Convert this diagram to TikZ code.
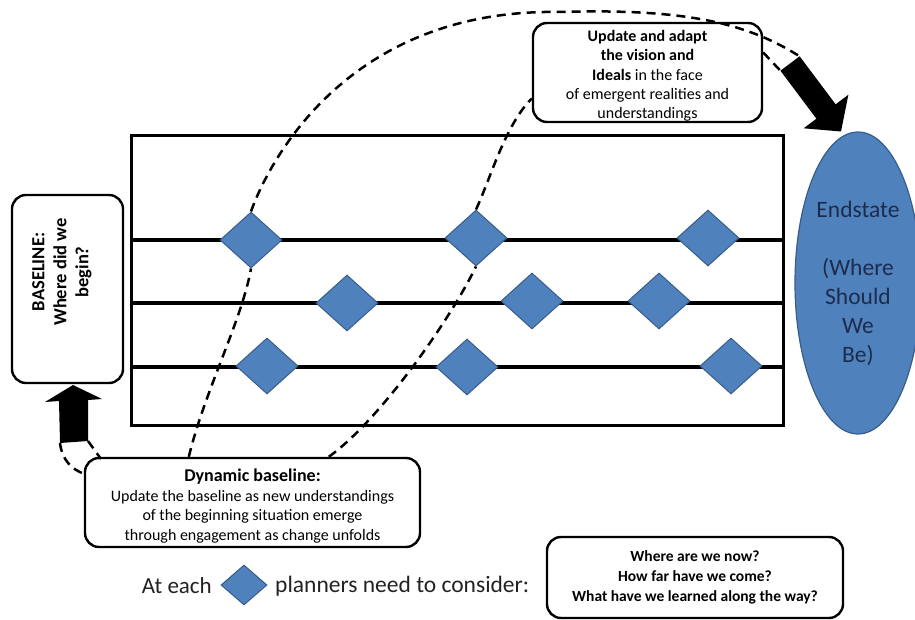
\documentclass[tikz,border=0pt]{standalone}
\usepackage{fontspec}
\setmainfont{Carlito}
\usetikzlibrary{shapes.geometric}
\definecolor{diafill}{HTML}{4F81BD}
\definecolor{diaedge}{HTML}{385D8A}
\definecolor{navy}{HTML}{1C2C4C}
\definecolor{ink}{HTML}{222222}
\begin{document}
\begin{tikzpicture}[x=1pt,y=-1pt,
  roundbox/.style={draw=black, line width=2.4pt, rounded corners=14pt, fill=white, inner sep=0pt, align=center},
  milestone/.style={diamond, draw=diaedge, fill=diafill, line width=1pt,
    minimum width=62pt, minimum height=56pt, inner sep=0pt},
  track/.style={line width=4.8pt},
  pathdash/.style={line width=2.5pt, dash pattern=on 9pt off 6pt},
  bigarrow/.style={fill=black},
  plain/.style={inner sep=0pt, text=ink},
]
\useasboundingbox (0,0) rectangle (915,620);
\fill[white] (0,0) rectangle (915,620);

% timeline frame and the three tracks
\draw[line width=3pt] (131,136) rectangle (783,425);
\foreach \yy in {240,303,367}
  \draw[track] (131,\yy) -- (783,\yy);

% milestones on the tracks
\node[milestone] (d11) at (251,240) {};
\node[milestone] (d12) at (476,238) {};
\node[milestone] (d13) at (708,238) {};
\node[milestone] (d21) at (347,303) {};
\node[milestone] (d22) at (532,301) {};
\node[milestone] (d23) at (659,301) {};
\node[milestone] (d31) at (267,366) {};
\node[milestone] (d32) at (467,367) {};
\node[milestone] (d33) at (731,366) {};

% boxes
\node[roundbox, minimum width=111pt, minimum height=188pt] (base) at (67.5,289) {};
\node[rotate=90, align=center, inner sep=0pt, font=\bfseries\fontsize{18.5}{22}\selectfont]
  (basetext) at (62,272) {BASELINE:\\Where did we\\begin?};

\node[roundbox, minimum width=335pt, minimum height=89pt] (dyn) at (252.5,502.5) {};
\node[align=center, inner sep=0pt, font=\fontsize{16}{19.6}\selectfont] (dyntext) at (252.5,506)
  {{\bfseries\fontsize{18}{19.6}\selectfont Dynamic baseline:}\\
   Update the baseline as new understandings\\
   of the beginning situation emerge\\
   through engagement as change unfolds};

\node[roundbox, minimum width=229pt, minimum height=99pt] (top) at (647.5,72.5) {};
\node[align=center, inner sep=0pt, font=\fontsize{16}{19.3}\selectfont] (toptext) at (647.5,76)
  {\textbf{Update and adapt}\\
   \textbf{the vision and}\\
   \textbf{Ideals} in the face\\
   of emergent realities and\\
   understandings};

\node[roundbox, minimum width=296pt, minimum height=81pt,
  font=\bfseries\fontsize{15.5}{20}\selectfont] (ask) at (695,577.5)
  {Where are we now?\\How far have we come?\\What have we learned along the way?};

% end state
\node[ellipse, draw=diaedge, fill=diafill, line width=1.2pt, minimum width=126pt,
  minimum height=302pt, inner sep=0pt, text=navy, align=center,
  font=\fontsize{23.5}{29}\selectfont] (end) at (858,283)
  {Endstate\\\mbox{}\\(Where\\Should\\We\\Be)};

% legend line
\node[plain, anchor=east, font=\fontsize{23}{28}\selectfont] (ateach) at (212,586) {At each};
\node[milestone, minimum width=46pt, minimum height=40pt] (key) at (244,585) {};
\node[plain, anchor=west, font=\fontsize{23.5}{28}\selectfont] (consider) at (275,586) {planners need to consider:};

% block arrows
\coordinate (sh1) at (799.6,56.3);
\coordinate (sh2) at (780.4,70.7);
\fill[bigarrow] (sh2) -- (sh1) -- (835.6,104.3) -- (848.4,94.7) -- (841,131.5)
  -- (803.6,128.3) -- (816.4,118.7) -- cycle;
\coordinate (bl1) at (60,443);
\coordinate (bl2) at (88,441);
\fill[bigarrow] (bl1) -- (bl2) -- (88,400) -- (102,399) -- (73,385) -- (45,402) -- (59,401) -- cycle;

% dashed paths of change
\draw[pathdash] ([xshift=105pt]dyn.north west) .. controls (205,390) and (242,320) .. (d11.south);
\draw[pathdash] (d11.north) .. controls (262,180) and (335,8) .. (560,12)
  .. controls (690,8) and (750,25) .. (sh1);
\draw[pathdash] ([xshift=245pt]dyn.north west) .. controls (380,420) and (450,320) .. (d12.south);
\draw[pathdash] (d12.north) .. controls (490,180) and (505,125) .. ([yshift=-26pt]top.west);
\draw[pathdash] ([yshift=20pt]top.east) -- (sh2);
\draw[pathdash] (bl1) .. controls (62,460) and (72,470) .. (85,474);
\draw[pathdash] (bl2) -- (101,459);

\end{tikzpicture}
\end{document}
